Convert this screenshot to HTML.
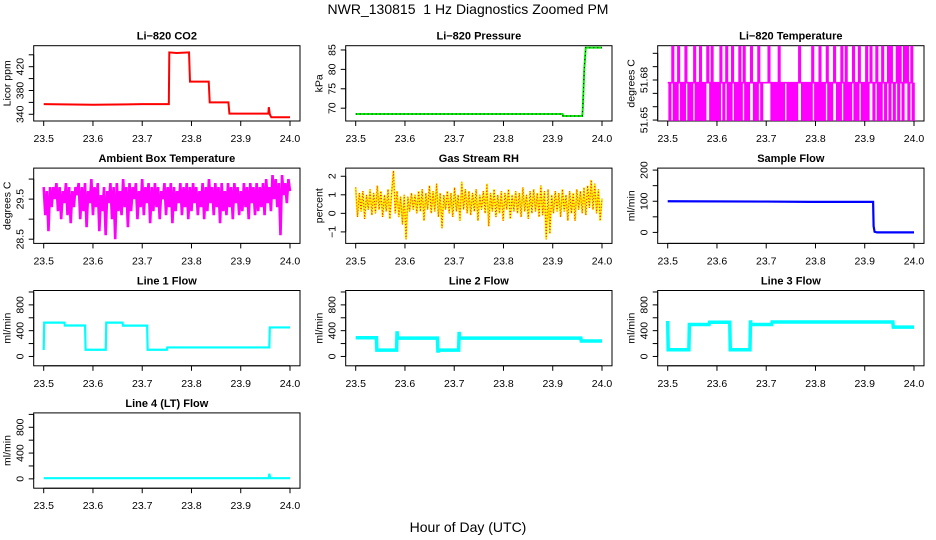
<!DOCTYPE html>
<html><head><meta charset="utf-8"><title>NWR_130815 1 Hz Diagnostics Zoomed PM</title>
<style>
html,body{margin:0;padding:0;background:#fff;}
svg{display:block;font-family:"Liberation Sans",sans-serif;}
.tk{font-size:10.5px;fill:#000;}
.ti{font-size:11px;font-weight:bold;fill:#000;}
</style></head>
<body>
<svg id="root" width="936" height="540" viewBox="0 0 936 540" xmlns="http://www.w3.org/2000/svg">
<rect x="0" y="0" width="936" height="540" fill="#fff"/>
<text x="468" y="14" text-anchor="middle" font-size="14">NWR_130815&#160; 1 Hz Diagnostics Zoomed PM</text>
<text x="468" y="532" text-anchor="middle" font-size="14">Hour of Day (UTC)</text>
<g id="panels"></g>
</svg>
<script>
// ---- data ----
const xTicks=[23.5,23.6,23.7,23.8,23.9,24.0];
const xTickLabels=["23.5","23.6","23.7","23.8","23.9","24.0"];

const co2Time=[23.5,23.6,23.7,23.754,23.755,23.77,23.795,23.797,23.835,23.837,23.875,23.877,23.956,23.957,23.959,23.962,24.0];
const co2Value=[357,356,357,357,444,443,444,395,395,360,360,341,341,352,340,335,335];

const presTime=[23.5,23.7,23.92,23.921,23.96,23.961,23.964,23.967,24.0];
const presValue=[68.5,68.5,68.5,68.0,68.0,70,80,85.6,85.6];

const ltLevels=[51.65,51.678,51.705];
const ltSeq=[1,0,1,2,0,1,0,2,1,0,1,0,2,1,0,1,0,1,2,0,1,0,2,0,1,0,1,2,1,0,2,0,1,0,1,0,2,1,0,1,2,0,1,0,2,1,0,1,0,2,0,1,2,0,1,0,1,2,1,0,1,0,2,1,0,1,1,1,1,2,1,0,1,0,1,0,2,0,1,0,1,1,0,1,0,1,0,1,0,1,2,1,0,1,0,1,0,1,0,2,1,0,1,0,2,0,1,0,1,2,0,1,0,1,2,1,0,1,0,2,1,0,2,0,1,0,1,2,0,1,0,2,1,0,1,0,2,0,1,2,1,0,1,2,0,1,0,2,1,0,1,2,0,2,1,0,1,2,0,2,1,0,2,1,2,0,1,2,0,1];

const ambValue=[29.8,29.1,29.7,28.7,29.8,29.3,29.8,29.5,29.9,29.2,29.8,29.0,29.7,29.4,29.9,29.1,29.8,28.9,29.7,29.3,29.8,29.6,29.9,29.0,29.8,29.2,29.9,28.8,29.7,29.4,30.0,29.1,29.8,29.3,29.9,28.7,29.6,29.2,29.8,28.6,29.7,29.4,29.9,29.0,29.8,28.5,29.9,29.2,29.7,29.1,30.0,29.3,29.8,28.8,29.9,29.2,29.8,29.5,29.9,29.0,29.7,29.3,30.0,29.1,29.8,29.4,29.9,28.9,29.8,29.2,29.9,29.3,29.8,29.0,29.7,29.5,29.9,29.1,29.8,29.3,29.9,28.9,29.8,29.2,29.7,29.4,29.9,29.1,29.8,29.3,29.9,29.0,29.8,29.2,29.9,29.4,29.8,29.1,29.7,29.3,29.9,29.0,29.8,29.2,30.0,29.4,29.8,29.1,29.9,29.3,29.8,28.9,29.9,29.2,29.7,29.1,29.9,29.3,29.8,29.0,29.9,29.4,29.8,29.1,29.7,29.2,29.9,29.3,29.8,29.0,29.9,29.4,29.8,29.1,29.9,29.2,29.8,29.3,29.9,29.1,30.0,29.4,29.8,29.2,30.1,29.5,30.0,29.3,29.9,28.6,30.1,29.6,29.9,29.4,30.0,29.7];

const rhValue=[1.4,-0.2,1.1,0.1,1.2,-0.3,1.0,0.2,1.3,-0.1,1.1,0.0,1.5,0.2,1.2,-0.2,1.0,0.1,1.3,-0.3,1.1,2.3,0.0,1.2,-0.2,0.9,-0.6,1.0,-1.4,0.9,0.1,1.1,0.2,1.0,0.0,1.2,0.1,1.3,-0.4,1.1,0.2,1.5,0.0,1.2,0.1,1.6,-0.2,1.1,-0.8,1.0,0.2,1.2,0.0,1.1,-0.2,1.4,0.1,1.0,-0.4,1.7,0.2,1.3,0.0,1.2,-0.1,1.1,0.1,1.3,-0.4,1.0,0.2,1.2,0.0,1.6,-0.7,1.1,0.1,1.3,-0.2,1.0,0.0,1.2,-0.4,1.1,0.2,1.3,-0.3,1.0,0.1,1.2,0.0,1.1,-0.2,1.4,0.1,1.0,-0.3,1.2,0.0,1.3,0.1,1.1,-0.2,1.5,-0.1,1.2,-1.4,1.3,-1.1,1.0,0.0,1.2,0.1,1.1,-0.2,1.3,0.1,1.0,-0.4,1.2,0.0,1.1,-0.4,1.3,0.2,1.2,0.0,1.4,-0.1,1.5,0.3,1.8,0.2,1.6,0.0,1.3,-0.4,0.8];

const sfTime=[23.5,23.7,23.79,23.85,23.917,23.918,23.92,23.925,24.0];
const sfValue=[100,99,98,98,98,20,2,0,0];

const l1Time=[23.5,23.501,23.542,23.543,23.584,23.585,23.626,23.627,23.66,23.661,23.71,23.711,23.75,23.751,23.958,23.959,24.0];
const l1Value=[100,525,525,480,480,104,104,525,525,478,478,104,104,140,140,450,450];

const l2Time=[23.5,23.542,23.543,23.583,23.584,23.585,23.666,23.667,23.668,23.709,23.710,23.711,23.957,23.958,24.0];
const l2Value=[290,290,99,99,390,285,285,60,99,99,380,285,285,240,240];

const l3Time=[23.5,23.501,23.543,23.544,23.584,23.585,23.626,23.627,23.667,23.668,23.669,23.711,23.712,23.957,23.958,24.0];
const l3Value=[550,104,104,495,495,530,530,104,104,560,495,495,535,535,455,455];

const l4Time=[23.5,23.957,23.958,23.96,24.0];
const l4Value=[10,10,80,10,10];

// ---- layout ----
const NS="http://www.w3.org/2000/svg";
const panelsG=document.getElementById('panels');
function mk(tag,attrs,parent){const e=document.createElementNS(NS,tag);for(const k in attrs)e.setAttribute(k,attrs[k]);(parent||panelsG).appendChild(e);return e;}

function panel(col,row,name,title,ylab,ylim,yticks,ylabels){
  const L=33.7+312*col, T=45.7+122.4*row, W=266.3, H=75.3;
  const g=mk('g',{});
  
  
  const xs=v=>L+10+(v-23.5)/0.5*246.3;
  const ys=v=>T+H-(v-ylim[0])/(ylim[1]-ylim[0])*H;
  const box=mk('rect',{x:L,y:T,width:W,height:H,fill:'none',stroke:'#000','stroke-width':1},g);
  
  
  const tt=mk('text',{x:L+W/2,y:T-6,'text-anchor':'middle',class:'ti'},g);
  
  
  tt.textContent=title;
  const xa=mk('g',{},g);
  
  
  mk('line',{x1:xs(xTicks[0]),x2:xs(xTicks[xTicks.length-1]),y1:T+H,y2:T+H,stroke:'#000'},xa);
  xTicks.forEach((v,i)=>{
    mk('line',{x1:xs(v),x2:xs(v),y1:T+H,y2:T+H+5,stroke:'#000'},xa);
    const t=mk('text',{x:xs(v),y:T+H+21,'text-anchor':'middle',class:'tk'},xa);
    
    
    t.textContent=xTickLabels[i];
  });
  const ya=mk('g',{},g);
  
  
  mk('line',{x1:L,x2:L,y1:ys(yticks[0]),y2:ys(yticks[yticks.length-1]),stroke:'#000'},ya);
  yticks.forEach((v,i)=>{
    mk('line',{x1:L,x2:L-5,y1:ys(v),y2:ys(v),stroke:'#000'},ya);
    if(ylabels[i]){
      const t=mk('text',{x:0,y:0,'text-anchor':'middle',class:'tk',transform:`translate(${L-10},${ys(v)}) rotate(-90)`},ya);
      
      
      t.textContent=ylabels[i];
    }
  });
  const yt=mk('text',{x:0,y:0,'text-anchor':'middle',class:'tk',transform:`translate(${L-23},${T+H/2}) rotate(-90)`},g);
  
  
  yt.textContent=ylab;
  return {g,xs,ys};
}
function line(p,name,times,vals,color,w,extra){
  const d=times.map((t,i)=>`${i?'L':'M'}${p.xs(t).toFixed(2)},${p.ys(vals[i]).toFixed(2)}`).join('');
  const a=Object.assign({d:d,fill:'none',stroke:color,'stroke-width':w,'stroke-linejoin':'miter'},extra||{});
  const e=mk('path',a,p.g);
  
  
  return e;
}
function evenTimes(n){const a=[];for(let i=0;i<n;i++)a.push(23.5+0.5*i/(n-1));return a;}

let p;
p=panel(0,0,'co2','Li\u2212820 CO2','Licor ppm',[328.7,455.3],[340,360,380,400,420,440],['340','','380','','420','']);
line(p,'co2-series',co2Time,co2Value,'#ff0000',2);

p=panel(1,0,'pressure','Li\u2212820 Pressure','kPa',[66.7,86.1],[70,75,80,85],['70','75','80','85']);
line(p,'pressure-series',presTime,presValue,'#00ee00',2);
line(p,'pressure-points',presTime,presValue,'#000',1,{'stroke-dasharray':'1,3'});

p=panel(2,0,'li820-temp','Li\u2212820 Temperature','degrees C',[51.6493,51.7057],[51.65,51.66,51.67,51.68,51.69,51.70],['51.65','','','51.68','','']);
{const ts=evenTimes(ltSeq.length);const tt=[],vv=[];ltSeq.forEach((k,i)=>{tt.push(ts[i]);vv.push(ltLevels[k]);if(i<ltSeq.length-1){tt.push(ts[i+1]);vv.push(ltLevels[k]);}});
line(p,'li820-temp-series',tt,vv,'#ff00ff',1.6);}

p=panel(0,1,'ambient-temp','Ambient Box Temperature','degrees C',[28.395,30.274],[28.5,29.0,29.5,30.0],['28.5','','29.5','']);
line(p,'ambient-temp-series',evenTimes(ambValue.length),ambValue,'#ff00ff',2.6);

p=panel(1,1,'gas-rh','Gas Stream RH','percent',[-1.62,2.44],[-1,0,1,2],['\u22121','0','1','2']);
line(p,'gas-rh-series',evenTimes(rhValue.length),rhValue,'#ffee00',2);
line(p,'gas-rh-points',evenTimes(rhValue.length),rhValue,'#ff2000',1,{'stroke-dasharray':'1,2'});

p=panel(2,1,'sample-flow','Sample Flow','ml/min',[-35.3,206.4],[0,50,100,150,200],['0','','100','','200']);
line(p,'sample-flow-series',sfTime,sfValue,'#0000ff',2.2);

p=panel(0,2,'line1-flow','Line 1 Flow','ml/min',[-145,1023],[0,200,400,600,800,1000],['0','','400','','800','']);
line(p,'line1-flow-series',l1Time,l1Value,'#00ffff',2.2);

p=panel(1,2,'line2-flow','Line 2 Flow','ml/min',[-145,1023],[0,200,400,600,800,1000],['0','','400','','800','']);
line(p,'line2-flow-series',l2Time,l2Value,'#00ffff',3.5);

p=panel(2,2,'line3-flow','Line 3 Flow','ml/min',[-145,1023],[0,200,400,600,800,1000],['0','','400','','800','']);
line(p,'line3-flow-series',l3Time,l3Value,'#00ffff',3.5);

p=panel(0,3,'line4-flow','Line 4 (LT) Flow','ml/min',[-145,1023],[0,200,400,600,800,1000],['0','','400','','800','']);
line(p,'line4-flow-series',l4Time,l4Value,'#00ffff',2.2);
</script>
</body></html>
